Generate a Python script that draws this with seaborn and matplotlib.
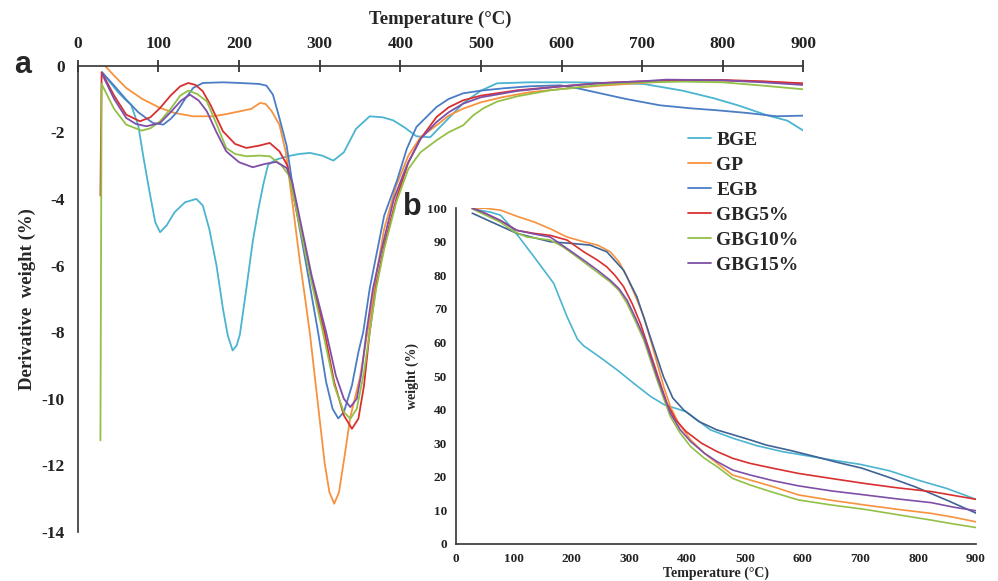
import matplotlib
matplotlib.use('Agg')
import matplotlib.pyplot as plt
import pandas as pd
import seaborn as sns

# series names and colours (Excel-style palette)
series = ['BGE', 'GP', 'EGB', 'GBG5%', 'GBG10%', 'GBG15%']
colors = {'BGE': '#4BB4D0', 'GP': '#F7923F', 'EGB': '#4A7DC4',
          'GBG5%': '#D8302F', 'GBG10%': '#93C047', 'GBG15%': '#7F4FA8'}

# panel a: derivative weight (%) vs temperature (°C)
dtg_bge = [(30, -0.2), (40, -0.5), (50, -0.8), (58, -1.0), (66, -1.17), (75, -1.8), (81, -2.7),
           (89, -3.8), (96, -4.7), (102, -5.0), (110, -4.8), (120, -4.4), (133, -4.1), (147, -4.0),
           (155, -4.2), (163, -4.9), (172, -6.0), (180, -7.3), (186, -8.1), (192, -8.55), (197, -8.4),
           (201, -8.07), (209, -6.7), (217, -5.27), (224, -4.3), (230, -3.57), (236, -2.97),
           (246, -2.82), (260, -2.72), (275, -2.65), (288, -2.62), (303, -2.7), (317, -2.85),
           (330, -2.6), (345, -1.9), (362, -1.52), (378, -1.55), (391, -1.64), (405, -1.85),
           (420, -2.12), (437, -2.15), (455, -1.7), (478, -1.13), (500, -0.75), (520, -0.53),
           (560, -0.5), (615, -0.5), (660, -0.52), (702, -0.55), (750, -0.75), (789, -0.98),
           (820, -1.2), (855, -1.49), (880, -1.65), (900, -1.95)]
dtg_gp = [(33.5, 0.0), (45, -0.3), (60, -0.67), (80, -1.0), (102, -1.27), (120, -1.42), (143, -1.52),
          (168, -1.52), (185, -1.45), (201, -1.37), (215, -1.3), (226, -1.12), (233, -1.15),
          (240, -1.35), (250, -1.77), (258, -2.6), (267, -4.27), (275, -5.8), (282, -7.0),
          (288, -8.07), (298, -10.2), (306, -11.9), (312, -12.8), (318, -13.15), (324, -12.8),
          (331, -11.7), (338, -10.55), (350, -9.35), (360, -7.9), (370, -6.3), (380, -4.9),
          (395, -3.6), (410, -2.7), (425, -2.15), (445, -1.79), (460, -1.5), (478, -1.29),
          (500, -1.1), (528, -0.94), (560, -0.8), (600, -0.7), (650, -0.6), (700, -0.52),
          (750, -0.45), (800, -0.45), (850, -0.48), (900, -0.55)]
dtg_egb = [(30, -0.2), (45, -0.6), (60, -1.02), (75, -1.4), (93, -1.72), (106, -1.77), (115, -1.6),
           (122, -1.42), (133, -1.0), (143, -0.67), (155, -0.52), (180, -0.5), (201, -0.52),
           (225, -0.55), (234, -0.6), (242, -0.87), (250, -1.57), (259, -2.4), (264, -3.2),
           (270, -4.2), (282, -5.8), (298, -8.0), (308, -9.5), (316, -10.3), (323, -10.59),
           (330, -10.4), (340, -9.6), (348, -8.6), (354, -8.0), (362, -6.7), (369, -5.84),
           (380, -4.5), (396, -3.44), (408, -2.5), (420, -1.84), (445, -1.24), (460, -1.0),
           (478, -0.83), (500, -0.75), (528, -0.68), (560, -0.62), (598, -0.59), (620, -0.68),
           (648, -0.83), (680, -1.0), (722, -1.19), (760, -1.28), (793, -1.34), (830, -1.42),
           (867, -1.52), (900, -1.5)]
dtg_gbg5 = [(28, -3.9), (29.5, -0.2), (45, -0.9), (60, -1.47), (77, -1.67), (90, -1.55), (102, -1.27),
            (115, -0.9), (127, -0.62), (137, -0.52), (146, -0.58), (155, -0.77), (165, -1.2),
            (180, -1.97), (195, -2.35), (209, -2.47), (225, -2.4), (238, -2.32), (250, -2.57),
            (260, -3.0), (270, -4.2), (288, -6.2), (306, -8.0), (318, -9.5), (330, -10.5),
            (340, -10.9), (348, -10.6), (355, -9.6), (362, -8.0), (370, -6.6), (381, -5.3),
            (395, -4.0), (410, -2.9), (425, -2.2), (445, -1.54), (460, -1.25), (478, -1.04),
            (500, -0.9), (545, -0.74), (600, -0.62), (650, -0.52), (700, -0.47), (750, -0.43),
            (800, -0.43), (850, -0.47), (900, -0.53)]
dtg_gbg10 = [(28, -11.25), (29.5, -0.55), (45, -1.3), (60, -1.77), (79, -1.95), (90, -1.88),
             (102, -1.67), (115, -1.3), (127, -0.9), (137, -0.75), (148, -0.85), (160, -1.07),
             (172, -1.75), (184, -2.47), (195, -2.65), (209, -2.72), (225, -2.7), (238, -2.72),
             (252, -2.97), (262, -3.3), (270, -4.2), (288, -6.3), (304, -8.0), (318, -9.6),
             (330, -10.4), (338, -10.6), (346, -10.3), (355, -9.2), (362, -8.0), (370, -6.7),
             (380, -5.5), (395, -4.1), (410, -3.1), (425, -2.6), (445, -2.24), (460, -2.0),
             (478, -1.79), (490, -1.5), (503, -1.28), (520, -1.08), (545, -0.92), (586, -0.74),
             (620, -0.65), (660, -0.55), (700, -0.5), (750, -0.48), (800, -0.5), (850, -0.6),
             (900, -0.71)]
dtg_gbg15 = [(30, -0.25), (45, -1.0), (60, -1.57), (72, -1.75), (85, -1.82), (102, -1.72),
             (115, -1.4), (128, -1.05), (139, -0.87), (150, -1.05), (160, -1.37), (172, -2.0),
             (184, -2.57), (200, -2.9), (217, -3.05), (232, -2.95), (246, -2.89), (259, -3.07),
             (266, -3.5), (272, -4.2), (290, -6.3), (308, -8.0), (320, -9.3), (330, -10.0),
             (338, -10.25), (346, -10.0), (352, -9.2), (358, -8.0), (366, -6.7), (377, -5.5),
             (392, -4.0), (408, -3.0), (425, -2.2), (445, -1.69), (460, -1.4), (478, -1.14),
             (500, -0.95), (545, -0.76), (600, -0.62), (650, -0.52), (700, -0.47), (730, -0.42),
             (800, -0.44), (850, -0.5), (900, -0.58)]

# panel b: weight (%) vs temperature (°C)
tg_bge = [(28, 99.8), (60, 98.8), (77, 97.9), (100, 93.4), (135, 85.5), (169, 77.6), (192, 67.7),
          (210, 61.0), (221, 59.0), (250, 55.5), (279, 51.8), (310, 47.5), (337, 43.9), (360, 41.5),
          (398, 39.4), (440, 34.0), (479, 31.5), (520, 29.3), (565, 27.5), (610, 26.2), (651, 25.0),
          (700, 23.7), (750, 21.8), (800, 19.0), (850, 16.5), (900, 13.3)]
tg_gp = [(28, 100), (50, 100), (77, 99.4), (105, 97.6), (135, 95.9), (165, 93.7), (192, 91.4),
         (221, 90.0), (245, 89.0), (267, 87.0), (282, 84.0), (296, 79.5), (310, 74.0), (325, 67.7),
         (337, 60.5), (348, 53.8), (360, 46.5), (371, 40.9), (385, 36.0), (406, 31.0), (430, 27.0),
         (452, 24.0), (479, 20.5), (510, 19.0), (550, 17.0), (593, 14.6), (650, 13.0), (708, 11.6),
         (765, 10.3), (823, 9.1), (860, 8.0), (900, 6.6)]
tg_egb = [(28, 98.5), (60, 96.0), (105, 92.5), (163, 90.0), (200, 89.5), (232, 89.0), (261, 87.0),
          (290, 81.5), (313, 73.6), (336, 61.7), (359, 49.8), (375, 43.5), (394, 39.9), (420, 36.5),
          (451, 34.0), (480, 32.5), (509, 31.0), (536, 29.5), (580, 27.8), (622, 26.0), (660, 24.3),
          (702, 22.6), (750, 19.8), (795, 17.0), (850, 13.0), (900, 9.2)]
tg_gbg5 = [(28, 100), (50, 98.5), (77, 96.3), (105, 93.4), (135, 92.5), (163, 91.9), (192, 90.5),
           (221, 87.0), (245, 84.5), (261, 82.5), (275, 80.0), (290, 76.6), (305, 71.5), (319, 65.7),
           (331, 59.5), (342, 53.8), (354, 47.5), (365, 41.9), (380, 37.0), (398, 33.5), (425, 30.0),
           (452, 27.5), (479, 25.5), (509, 24.0), (550, 22.5), (593, 21.0), (650, 19.5), (708, 18.0),
           (765, 16.7), (823, 15.6), (860, 14.5), (900, 13.3)]
tg_gbg10 = [(28, 99.8), (50, 98.0), (77, 95.8), (100, 93.0), (123, 91.4), (163, 90.5), (185, 88.5),
            (209, 85.5), (240, 81.5), (267, 78.0), (282, 75.5), (296, 71.6), (310, 66.5), (325, 60.7),
            (337, 54.5), (348, 48.8), (360, 43.0), (371, 37.9), (388, 33.0), (406, 29.0), (430, 25.5),
            (452, 23.0), (479, 19.5), (510, 17.5), (550, 15.3), (593, 13.1), (650, 11.6), (708, 10.3),
            (765, 8.7), (823, 7.1), (860, 6.0), (900, 4.9)]
tg_gbg15 = [(28, 100), (50, 98.5), (77, 96.3), (105, 93.4), (135, 92.3), (163, 91.4), (192, 88.0),
            (221, 84.5), (245, 81.5), (267, 78.5), (282, 76.0), (296, 72.6), (310, 67.5), (325, 61.7),
            (337, 55.5), (348, 49.8), (360, 44.0), (371, 38.9), (388, 34.0), (406, 30.5), (430, 27.0),
            (452, 24.5), (479, 22.0), (510, 20.5), (550, 18.8), (593, 17.3), (650, 15.8), (708, 14.6),
            (765, 13.4), (823, 12.3), (860, 11.0), (900, 9.9)]

dtg = dict(zip(series, [dtg_bge, dtg_gp, dtg_egb, dtg_gbg5, dtg_gbg10, dtg_gbg15]))
tg = dict(zip(series, [tg_bge, tg_gp, tg_egb, tg_gbg5, tg_gbg10, tg_gbg15]))


def to_frame(d, col):
    rows = []
    for name, pts in d.items():
        for t, v in pts:
            rows.append({'series': name, 'T': t, col: v})
    return pd.DataFrame(rows)


df_a = to_frame(dtg, 'dtg')
df_b = to_frame(tg, 'weight')

sns.set_style('white')
plt.rcParams['font.family'] = ['Liberation Serif', 'DejaVu Serif']
plt.rcParams['font.weight'] = 'bold'
plt.rcParams['axes.labelweight'] = 'bold'
plt.rcParams['axes.unicode_minus'] = False

fig = plt.figure(figsize=(9.98, 5.81), dpi=100)

# main panel (a)
ax = fig.add_axes([0.078, 0.0843, 0.727, 0.8027])
sns.lineplot(data=df_a, x='T', y='dtg', hue='series', hue_order=series, palette=colors,
             estimator=None, sort=False, linewidth=1.3, legend=False, ax=ax)
ax.set_xlim(0, 900)
ax.set_ylim(-14, 0)
ax.set_xticks(range(0, 901, 100))
ax.set_yticks(range(-14, 1, 2))
ax.xaxis.tick_top()
ax.xaxis.set_label_position('top')
for s in ['bottom', 'right']:
    ax.spines[s].set_visible(False)
for s in ['top', 'left']:
    ax.spines[s].set_color('#333333')
    ax.spines[s].set_linewidth(1.2)
ax.tick_params(direction='inout', length=9, width=1.2, colors='#222222', labelsize=12.5, pad=5)
ax.set_xlabel('Temperature (°C)', fontsize=13.5, labelpad=9)
ax.set_ylabel('Derivative  weight (%)', fontsize=13.5, labelpad=4)
ax.set_facecolor('none')

# inset panel (b)
ax2 = fig.add_axes([0.457, 0.0637, 0.521, 0.578])
sns.lineplot(data=df_b, x='T', y='weight', hue='series', hue_order=series,
             palette={**colors, 'EGB': '#3F6394'},
             estimator=None, sort=False, linewidth=1.2, legend=False, ax=ax2)
ax2.set_xlim(0, 900)
ax2.set_ylim(0, 100)
ax2.set_xticks(range(0, 901, 100))
ax2.set_yticks(range(0, 101, 10))
for s in ['top', 'right']:
    ax2.spines[s].set_visible(False)
for s in ['bottom', 'left']:
    ax2.spines[s].set_color('#333333')
    ax2.spines[s].set_linewidth(1.2)
ax2.tick_params(direction='inout', length=7, width=1.1, colors='#222222', labelsize=9.5, pad=3)
ax2.set_xlabel('Temperature (°C)', fontsize=10, labelpad=1)
ax2.set_ylabel('weight (%)', fontsize=10, labelpad=6)
ax2.set_facecolor('none')

# legend
handles = ax.get_lines()[:len(series)]
fig.legend(handles, series, loc='upper left', bbox_to_anchor=(688 / 998, 1 - 131 / 581),
           frameon=False, prop={'family': 'Liberation Serif', 'weight': 'bold', 'size': 14},
           handlelength=1.2, handletextpad=0.25, labelspacing=0.38, borderaxespad=0, borderpad=0)

# panel letters
fig.text(23 / 998, 1 - 65 / 581, 'a', fontsize=22, fontweight='bold', family='Liberation Sans',
         ha='center', va='center')
fig.text(412 / 998, 1 - 207 / 581, 'b', fontsize=22, fontweight='bold', family='Liberation Sans',
         ha='center', va='center')

fig.savefig('out.png', dpi=100)
